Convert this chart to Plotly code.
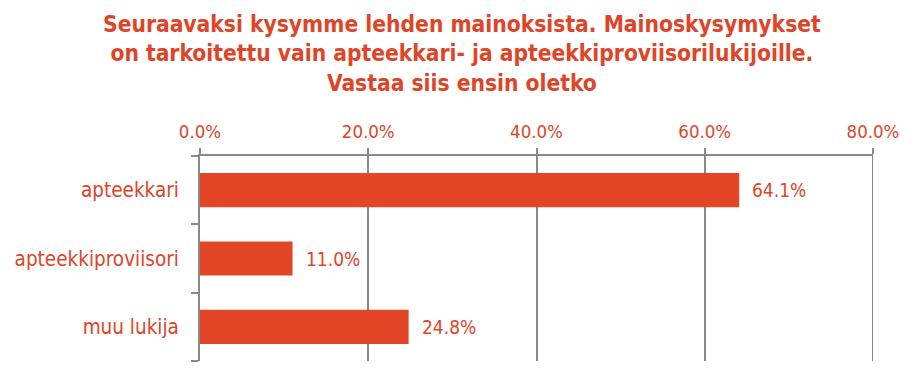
import plotly.graph_objects as go

categories = ["apteekkari", "apteekkiproviisori", "muu lukija"]
values = [64.1, 11.0, 24.8]
tick_vals = [0, 20, 40, 60, 80]
tick_text = ["0.0%", "20.0%", "40.0%", "60.0%", "80.0%"]
labels = ["64.1%", "11.0%", "24.8%"]
title_text = ("Seuraavaksi kysymme lehden mainoksista. Mainoskysymykset<br>"
              "on tarkoitettu vain apteekkari- ja apteekkiproviisorilukijoille.<br>"
              "Vastaa siis ensin oletko")

RED = "#E04427"
GRAY = "#898989"
FONT = "DejaVu Sans Condensed"

fig = go.Figure()
fig.add_trace(go.Bar(
    y=categories, x=values, orientation="h",
    marker=dict(color="#E24627", line=dict(width=0)),
    width=0.5, hoverinfo="skip",
))
for c, v, t in zip(categories, values, labels):
    fig.add_annotation(x=v, y=c, text=t, showarrow=False, xanchor="left",
                       xshift=11, font=dict(family=FONT, size=19, color=RED))

fig.add_annotation(
    text=title_text, xref="paper", yref="paper", x=0.389, y=1,
    xanchor="center", yanchor="bottom", yshift=58, showarrow=False,
    align="center", font=dict(family=FONT, size=22.6, color=RED, weight="bold"),
)

# gridline at the right edge of the range (plotly hides edge gridlines)
fig.add_vline(x=tick_vals[-1], line=dict(color=GRAY, width=2), layer="below")

fig.update_layout(
    width=915, height=376,
    margin=dict(l=192, r=50, t=148, b=23, autoexpand=False),
    paper_bgcolor="white", plot_bgcolor="white",
    showlegend=False,
    xaxis=dict(
        side="top", range=[tick_vals[0], tick_vals[-1]], tickvals=tick_vals, ticktext=tick_text,
        showgrid=True, gridcolor=GRAY, gridwidth=2,
        showline=True, linecolor=GRAY, linewidth=2,
        ticks="outside", ticklen=6, tickcolor=GRAY, tickwidth=2,
        tickfont=dict(family=FONT, size=18.5, color=RED),
        zeroline=False, fixedrange=True, ticklabelstandoff=3,
    ),
    yaxis=dict(
        categoryorder="array", categoryarray=categories[::-1],
        showline=True, linecolor=GRAY, linewidth=2,
        ticks="outside", ticklen=7, tickcolor=GRAY, tickwidth=2,
        tickson="boundaries", showgrid=False,
        tickfont=dict(family=FONT, size=20.5, color=RED),
        ticklabelstandoff=15, fixedrange=True,
    ),
)
fig.write_html("out.html")
